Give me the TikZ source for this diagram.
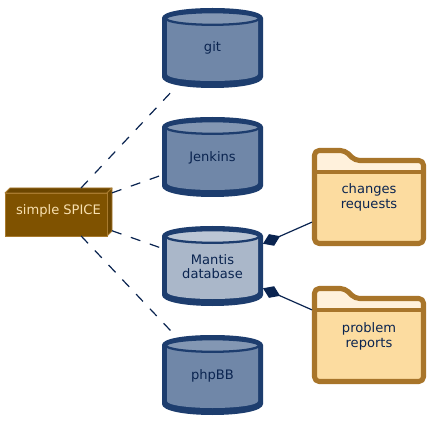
\documentclass[tikz,border=0pt]{standalone}
\usepackage{fontspec}
\setmainfont{DejaVu Sans}
\usetikzlibrary{arrows.meta}
\definecolor{navy}{HTML}{0A2450}
\definecolor{cylline}{HTML}{1D3D6E}
\definecolor{cylfill}{HTML}{7087A8}
\definecolor{cyltop}{HTML}{8397B3}
\definecolor{manfill}{HTML}{AAB7C9}
\definecolor{mantop}{HTML}{BBC6D5}
\definecolor{brn}{HTML}{7F5200}
\definecolor{brnline}{HTML}{A87A2E}
\definecolor{brntxt}{HTML}{F8E0B0}
\definecolor{fold}{HTML}{FCDCA0}
\definecolor{foldtop}{HTML}{FFF1DC}
\definecolor{foldline}{HTML}{A8752A}
\tikzset{
  x=0.75pt,y=-0.75pt,
  box/.style={inner sep=0pt,outer sep=0pt,minimum width=#1*0.75pt,align=center,text=navy,font=\fontsize{9.8pt}{10.6pt}\selectfont},
  dep/.style={navy,line width=0.9pt,dash pattern=on 7.5pt off 7.5pt},
  comp/.style={navy,line width=0.9pt,{Diamond[length=14pt,width=9.5pt]}-},
}
\newcommand{\cyl}[6]{% name, top y, fill, top fill, text, text shift
  \path[fill=cylline] (162,#2+10) .. controls (162,#2+3.5) and (185,#2+0) .. (212.5,#2+0) .. controls (240,#2+0) and (263,#2+3.5) .. (263,#2+10) -- (263,#2+69) .. controls (263,#2+76) and (240,#2+80) .. (212.5,#2+80) .. controls (185,#2+80) and (162,#2+76) .. (162,#2+69) -- cycle;
  \path[fill=#3] (167,#2+12) -- (167,#2+66) .. controls (167,#2+70.5) and (190,#2+73) .. (212.5,#2+73) .. controls (235,#2+73) and (258,#2+70.5) .. (258,#2+66) -- (258,#2+12) -- cycle;
  \draw[draw=cylline,fill=#4,line width=1.7pt] (212.5,#2+10.5) ellipse[x radius=46.5,y radius=6.3];
  \node[box=101,minimum height=60pt] (#1) at (212.5,#2+40) {};
  \node[box=101] (#1text) at (212.5,#2+40+#6) {#5};
}
\newcommand{\fld}[4]{% name, offset y, text, text shift
  \path[fill=fold] (314.5,#2+172) rectangle (423.5,#2+243.5);
  \path[fill=foldtop] (314.5,#2+172) -- (314.5,#2+155) -- (317,#2+151) -- (345,#2+151) -- (349,#2+154) -- (356,#2+161) -- (423.5,#2+161) -- (423.5,#2+172) -- cycle;
  \draw[foldline,line width=3.8pt,line join=round,rounded corners=3.5pt] (314.5,#2+172) -- (314.5,#2+150.5) -- (345,#2+150.5) -- (355,#2+160.5) -- (423.5,#2+160.5) -- (423.5,#2+243.5) -- (314.5,#2+243.5) -- cycle;
  \draw[foldline,line width=3pt] (314.5,#2+172) -- (423.5,#2+172);
  \node[box=114,minimum height=73.5pt] (#1) at (369,#2+197) {};
  \node[box=114,font=\fontsize{9.8pt}{11.2pt}\selectfont] (#1text) at (369,#2+197+#4) {#3};
}
\begin{document}
\begin{tikzpicture}
\useasboundingbox (0,0) rectangle (432,424);
\path[fill=white] (0,0) rectangle (432,424);
\cyl{git}{8}{cylfill}{cyltop}{git}{0}
\cyl{jenkins}{117}{cylfill}{cyltop}{Jenkins}{1}
\cyl{mantis}{226}{manfill}{mantop}{Mantis\\database}{0.5}
\cyl{phpbb}{335}{cylfill}{cyltop}{phpBB}{1}
\fld{changes}{0}{changes\\requests}{0}
\fld{problem}{138}{problem\\reports}{1.5}
% simple SPICE box
\path[fill=brn!85!black,draw=brnline,line width=0.6pt,line join=round] (5,193) -- (10,188) -- (112,188) -- (107,193) -- cycle;
\path[fill=brn!85!black,draw=brnline,line width=0.6pt,line join=round] (107,193) -- (112,188) -- (112,231) -- (107,236) -- cycle;
\path[fill=brn,draw=brnline,line width=0.6pt] (5,193) rectangle (107,236);
\node[box=107,minimum height=36pt] (spice) at (58.5,212) {};
\node[inner sep=0pt,text=brntxt,font=\fontsize{9.8pt}{10.6pt}\selectfont] (spicetxt) at (58.5,211) {simple SPICE};
% connectors
\draw[dep] (spice) -- (git);
\draw[dep] (spice) -- (jenkins);
\draw[dep] (spice) -- (mantis);
\draw[dep] (spice) -- (phpbb);
\draw[comp] (mantis) -- (changes);
\draw[comp] (mantis) -- (problem);
\end{tikzpicture}
\end{document}
